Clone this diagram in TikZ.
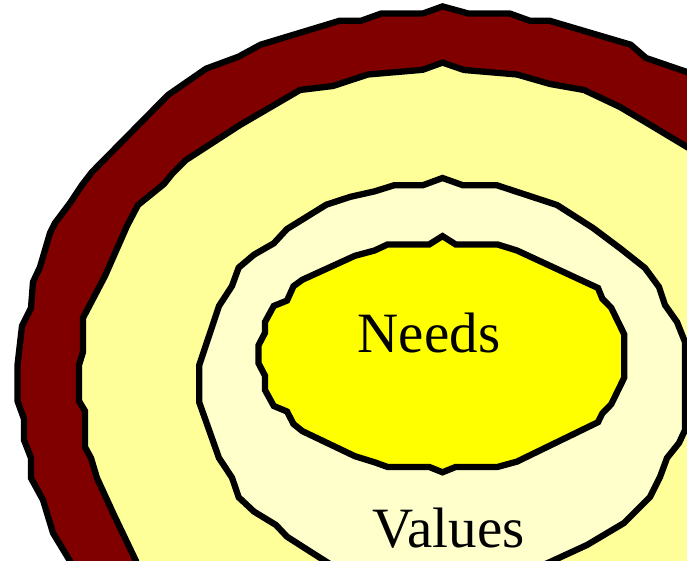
\documentclass[tikz,border=0pt]{standalone}
\usepackage{fontspec}
\setmainfont{Liberation Serif}
\definecolor{ringred}{HTML}{800000}
\definecolor{lightyel}{HTML}{FFFF99}
\definecolor{paleyel}{HTML}{FFFFCC}
\definecolor{brightyel}{HTML}{FFFF00}
\def\pathOuter{(442.5,6.4) -- (468.7,13.6) -- (510,13.6) -- (530,20.8) -- (549.7,20.8)
  -- (630.7,44.7) -- (646,58) -- (687,72) -- (740,95) -- (800,300) -- (800,650) -- (90,650)
  -- (70,561) -- (53,533) -- (43,500) -- (31,478) -- (31,458) -- (24,440) -- (24,419)
  -- (17.5,401) -- (17.5,365) -- (22,326) -- (31,308) -- (33,282) -- (40,267) -- (50,233)
  -- (55,223) -- (70,203) -- (82,185) -- (92,172) -- (168,95) -- (206,68.7) -- (238.7,56.6)
  -- (260.6,44.7) -- (339.5,20.8) -- (361,20.8) -- (381,13.6) -- (422.7,13.6) -- cycle}
\def\pathSecond{(442.5,62.6) -- (464,70) -- (517,74.5) -- (550,84) -- (584,90)
  -- (620,107) -- (647,123) -- (687,147) -- (740,180) -- (790,400) -- (790,640) -- (150,640)
  -- (136,561) -- (114,515) -- (97,478) -- (91,458) -- (85,447) -- (85,411) -- (79,401)
  -- (79,365) -- (83,352) -- (83,318) -- (105,276) -- (127,226) -- (138,205) -- (164,184)
  -- (172,174) -- (186,160) -- (240,125) -- (300,90) -- (333,86) -- (368,74.5)
  -- (422.7,69.8) -- cycle}
\def\pathThird{(442.5,178) -- (463,185.3) -- (497,185.3) -- (557,205) -- (593,228)
  -- (621,249) -- (645,268) -- (659,287) -- (665,305) -- (677,322) -- (685,342) -- (685,430)
  -- (679,443) -- (667,458) -- (660,477) -- (650,497) -- (624,523) -- (587,545) -- (550,562)
  -- (500,585) -- (400,585) -- (333,566) -- (315,554.6) -- (287,536.7) -- (276,525)
  -- (254,511.6) -- (238.7,497.3) -- (232,477.6) -- (219,458) -- (199.3,402.5)
  -- (199.3,365) -- (219,306) -- (232,286) -- (238.7,267.6) -- (254,254.7)
  -- (273.8,243.3) -- (287,229) -- (326.3,204.7) -- (350.4,196.8) -- (374.5,191.4)
  -- (394,185.3) -- (422.7,185.3) -- cycle}
\def\pathNeeds{(442.5,236.1) -- (455.6,244.4) -- (497.3,244.4) -- (517,250.5)
  -- (598,288) -- (602.4,298.8) -- (611.2,307.7) -- (624.3,334.5) -- (624.3,377.5)
  -- (611.2,404.3) -- (602.4,413.3) -- (598,422.2) -- (517,461.6) -- (497.3,467)
  -- (455.6,467) -- (442.5,472.3) -- (429.3,467) -- (387.7,467) -- (374.6,462.3)
  -- (354.9,456.2) -- (302.3,431.1) -- (293.5,424) -- (287,411.5) -- (273.8,406)
  -- (265,390) -- (265,375.7) -- (258.5,363.2) -- (258.5,345.3) -- (265,332.8)
  -- (265,322) -- (273.8,305.9) -- (287,300.6) -- (293.5,286.2) -- (302.3,279.8)
  -- (354.9,255.8) -- (374.6,250.5) -- (387.7,244.4) -- (429.3,244.4) -- cycle}
\begin{document}
\begin{tikzpicture}[x=1pt,y=-1pt,
  outline/.style={draw=black,line width=6.3pt},
  lbl/.style={anchor=base,inner sep=0pt,font=\fontsize{57}{60}\selectfont}]
\useasboundingbox (0,0) rectangle (687,561);
\clip (0,0) rectangle (687,561);
% fills
\fill[ringred] \pathOuter;
\fill[lightyel] \pathSecond;
\fill[paleyel] \pathThird;
\fill[brightyel] \pathNeeds;
% outlines
\path[outline] \pathOuter;
\path[outline] \pathSecond;
\path[outline] \pathThird;
\path[outline] \pathNeeds;
\node[lbl] (needs) at (429,352) {Needs};
\node[lbl] (values) at (448.5,547.5) {Values};
\end{tikzpicture}
\end{document}
